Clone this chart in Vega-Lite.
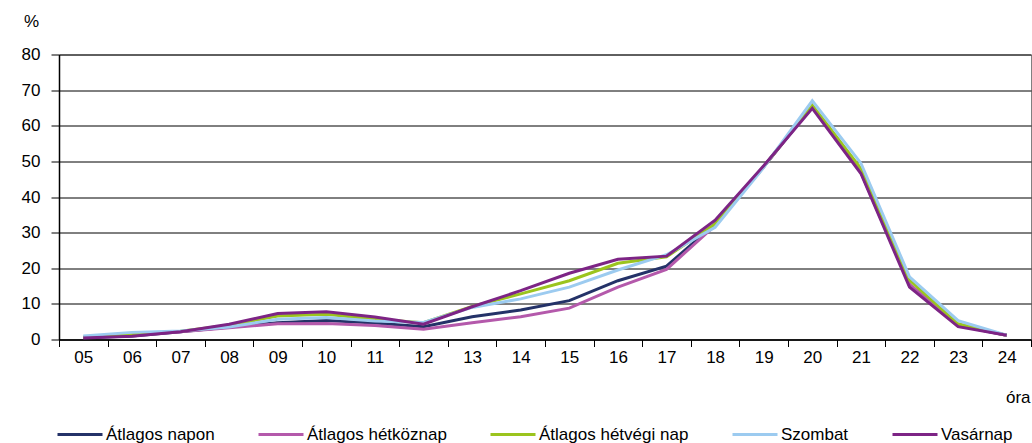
{
  "$schema": "https://vega.github.io/schema/vega-lite/v6.json",
  "autosize": "none",
  "width": 972,
  "height": 285,
  "padding": {"left": 59, "top": 54.5, "right": 1, "bottom": 103.5},
  "background": "white",
  "config": {
    "view": {"stroke": "#808080", "strokeWidth": 1},
    "font": "Liberation Sans",
    "axis": {"labelFont": "Liberation Sans", "titleFont": "Liberation Sans", "labelColor": "black", "titleColor": "black", "labelFontSize": 17, "titleFontSize": 17, "titleFontWeight": "normal"},
    "legend": {"labelFont": "Liberation Sans", "labelFontSize": 17, "labelColor": "black"}
  },
  "datasets": {
    "d": [
      {"hour": "05", "series": "Átlagos napon", "value": 0.5},
      {"hour": "06", "series": "Átlagos napon", "value": 1.0},
      {"hour": "07", "series": "Átlagos napon", "value": 2.2},
      {"hour": "08", "series": "Átlagos napon", "value": 3.5},
      {"hour": "09", "series": "Átlagos napon", "value": 4.7},
      {"hour": "10", "series": "Átlagos napon", "value": 5.3},
      {"hour": "11", "series": "Átlagos napon", "value": 4.6},
      {"hour": "12", "series": "Átlagos napon", "value": 3.6},
      {"hour": "13", "series": "Átlagos napon", "value": 6.4},
      {"hour": "14", "series": "Átlagos napon", "value": 8.3},
      {"hour": "15", "series": "Átlagos napon", "value": 10.9},
      {"hour": "16", "series": "Átlagos napon", "value": 16.5},
      {"hour": "17", "series": "Átlagos napon", "value": 20.6},
      {"hour": "18", "series": "Átlagos napon", "value": 32.4},
      {"hour": "19", "series": "Átlagos napon", "value": 48.5},
      {"hour": "20", "series": "Átlagos napon", "value": 65.5},
      {"hour": "21", "series": "Átlagos napon", "value": 47.0},
      {"hour": "22", "series": "Átlagos napon", "value": 15.3},
      {"hour": "23", "series": "Átlagos napon", "value": 4.0},
      {"hour": "24", "series": "Átlagos napon", "value": 1.2},

      {"hour": "05", "series": "Átlagos hétköznap", "value": 0.6},
      {"hour": "06", "series": "Átlagos hétköznap", "value": 1.3},
      {"hour": "07", "series": "Átlagos hétköznap", "value": 2.2},
      {"hour": "08", "series": "Átlagos hétköznap", "value": 3.3},
      {"hour": "09", "series": "Átlagos hétköznap", "value": 4.4},
      {"hour": "10", "series": "Átlagos hétköznap", "value": 4.5},
      {"hour": "11", "series": "Átlagos hétköznap", "value": 3.9},
      {"hour": "12", "series": "Átlagos hétköznap", "value": 2.9},
      {"hour": "13", "series": "Átlagos hétköznap", "value": 4.7},
      {"hour": "14", "series": "Átlagos hétköznap", "value": 6.4},
      {"hour": "15", "series": "Átlagos hétköznap", "value": 8.8},
      {"hour": "16", "series": "Átlagos hétköznap", "value": 14.7},
      {"hour": "17", "series": "Átlagos hétköznap", "value": 19.7},
      {"hour": "18", "series": "Átlagos hétköznap", "value": 32.0},
      {"hour": "19", "series": "Átlagos hétköznap", "value": 48.5},
      {"hour": "20", "series": "Átlagos hétköznap", "value": 65.5},
      {"hour": "21", "series": "Átlagos hétköznap", "value": 47.0},
      {"hour": "22", "series": "Átlagos hétköznap", "value": 15.5},
      {"hour": "23", "series": "Átlagos hétköznap", "value": 4.0},
      {"hour": "24", "series": "Átlagos hétköznap", "value": 1.2},

      {"hour": "05", "series": "Átlagos hétvégi nap", "value": 0.6},
      {"hour": "06", "series": "Átlagos hétvégi nap", "value": 1.3},
      {"hour": "07", "series": "Átlagos hétvégi nap", "value": 2.3},
      {"hour": "08", "series": "Átlagos hétvégi nap", "value": 4.0},
      {"hour": "09", "series": "Átlagos hétvégi nap", "value": 6.6},
      {"hour": "10", "series": "Átlagos hétvégi nap", "value": 7.1},
      {"hour": "11", "series": "Átlagos hétvégi nap", "value": 5.7},
      {"hour": "12", "series": "Átlagos hétvégi nap", "value": 4.7},
      {"hour": "13", "series": "Átlagos hétvégi nap", "value": 9.3},
      {"hour": "14", "series": "Átlagos hétvégi nap", "value": 12.8},
      {"hour": "15", "series": "Átlagos hétvégi nap", "value": 16.5},
      {"hour": "16", "series": "Átlagos hétvégi nap", "value": 21.4},
      {"hour": "17", "series": "Átlagos hétvégi nap", "value": 23.2},
      {"hour": "18", "series": "Átlagos hétvégi nap", "value": 32.4},
      {"hour": "19", "series": "Átlagos hétvégi nap", "value": 48.5},
      {"hour": "20", "series": "Átlagos hétvégi nap", "value": 65.8},
      {"hour": "21", "series": "Átlagos hétvégi nap", "value": 48.0},
      {"hour": "22", "series": "Átlagos hétvégi nap", "value": 16.7},
      {"hour": "23", "series": "Átlagos hétvégi nap", "value": 4.4},
      {"hour": "24", "series": "Átlagos hétvégi nap", "value": 1.2},

      {"hour": "05", "series": "Szombat", "value": 1.0},
      {"hour": "06", "series": "Szombat", "value": 2.0},
      {"hour": "07", "series": "Szombat", "value": 2.4},
      {"hour": "08", "series": "Szombat", "value": 3.5},
      {"hour": "09", "series": "Szombat", "value": 5.7},
      {"hour": "10", "series": "Szombat", "value": 6.2},
      {"hour": "11", "series": "Szombat", "value": 5.2},
      {"hour": "12", "series": "Szombat", "value": 4.8},
      {"hour": "13", "series": "Szombat", "value": 9.0},
      {"hour": "14", "series": "Szombat", "value": 11.4},
      {"hour": "15", "series": "Szombat", "value": 14.7},
      {"hour": "16", "series": "Szombat", "value": 19.5},
      {"hour": "17", "series": "Szombat", "value": 23.8},
      {"hour": "18", "series": "Szombat", "value": 31.5},
      {"hour": "19", "series": "Szombat", "value": 48.3},
      {"hour": "20", "series": "Szombat", "value": 67.0},
      {"hour": "21", "series": "Szombat", "value": 49.5},
      {"hour": "22", "series": "Szombat", "value": 17.6},
      {"hour": "23", "series": "Szombat", "value": 5.3},
      {"hour": "24", "series": "Szombat", "value": 1.2},

      {"hour": "05", "series": "Vasárnap", "value": 0.4},
      {"hour": "06", "series": "Vasárnap", "value": 0.9},
      {"hour": "07", "series": "Vasárnap", "value": 2.2},
      {"hour": "08", "series": "Vasárnap", "value": 4.3},
      {"hour": "09", "series": "Vasárnap", "value": 7.3},
      {"hour": "10", "series": "Vasárnap", "value": 7.8},
      {"hour": "11", "series": "Vasárnap", "value": 6.3},
      {"hour": "12", "series": "Vasárnap", "value": 4.3},
      {"hour": "13", "series": "Vasárnap", "value": 9.2},
      {"hour": "14", "series": "Vasárnap", "value": 13.7},
      {"hour": "15", "series": "Vasárnap", "value": 18.6},
      {"hour": "16", "series": "Vasárnap", "value": 22.5},
      {"hour": "17", "series": "Vasárnap", "value": 23.4},
      {"hour": "18", "series": "Vasárnap", "value": 33.5},
      {"hour": "19", "series": "Vasárnap", "value": 48.8},
      {"hour": "20", "series": "Vasárnap", "value": 64.9},
      {"hour": "21", "series": "Vasárnap", "value": 46.6},
      {"hour": "22", "series": "Vasárnap", "value": 14.7},
      {"hour": "23", "series": "Vasárnap", "value": 3.6},
      {"hour": "24", "series": "Vasárnap", "value": 1.2}
    ]
  },
  "data": {"name": "d"},
  "mark": {"type": "line", "strokeWidth": 3, "strokeJoin": "miter", "clip": false},
  "encoding": {
    "x": {
      "field": "hour",
      "type": "ordinal",
      "scale": {"type": "band", "paddingInner": 0, "paddingOuter": 0},
      "axis": {
        "title": "óra",
        "titleAngle": 0,
        "titleAlign": "right",
        "titleBaseline": "middle",
        "titleAnchor": null,
        "titleX": 971,
        "titleY": 58,
        "labelAngle": 0,
        "labelPadding": 3,
        "tickBand": "extent",
        "tickSize": 7,
        "tickColor": "black",
        "domainColor": "black",
        "domainWidth": 1.5,
        "grid": false
      }
    },
    "y": {
      "field": "value",
      "type": "quantitative",
      "scale": {"domain": [0, 80], "nice": false},
      "axis": {
        "title": "%",
        "titleAngle": 0,
        "titleAlign": "center",
        "titleBaseline": "middle",
        "titleX": -28,
        "titleY": -33,
        "values": [0, 10, 20, 30, 40, 50, 60, 70, 80],
        "tickSize": 8,
        "tickColor": "black",
        "labelPadding": 11,
        "domainColor": "black",
        "domainWidth": 1.5,
        "grid": true,
        "gridColor": "black",
        "gridWidth": 1,
        "gridOpacity": 1
      }
    },
    "color": {
      "field": "series",
      "type": "nominal",
      "sort": ["Átlagos napon", "Átlagos hétköznap", "Átlagos hétvégi nap", "Szombat", "Vasárnap"],
      "scale": {
        "domain": ["Átlagos napon", "Átlagos hétköznap", "Átlagos hétvégi nap", "Szombat", "Vasárnap"],
        "range": ["#243268", "#B459AB", "#9BC41E", "#9CCBF0", "#7D2485"]
      },
      "legend": {
        "title": null,
        "orient": "none",
        "direction": "horizontal",
        "legendX": -3,
        "legendY": 356,
        "padding": 0,
        "symbolType": "stroke",
        "symbolSize": 2025,
        "symbolStrokeWidth": 3,
        "labelOffset": 2,
        "columnPadding": 37,
        "labelLimit": 400
      }
    }
  }
}
